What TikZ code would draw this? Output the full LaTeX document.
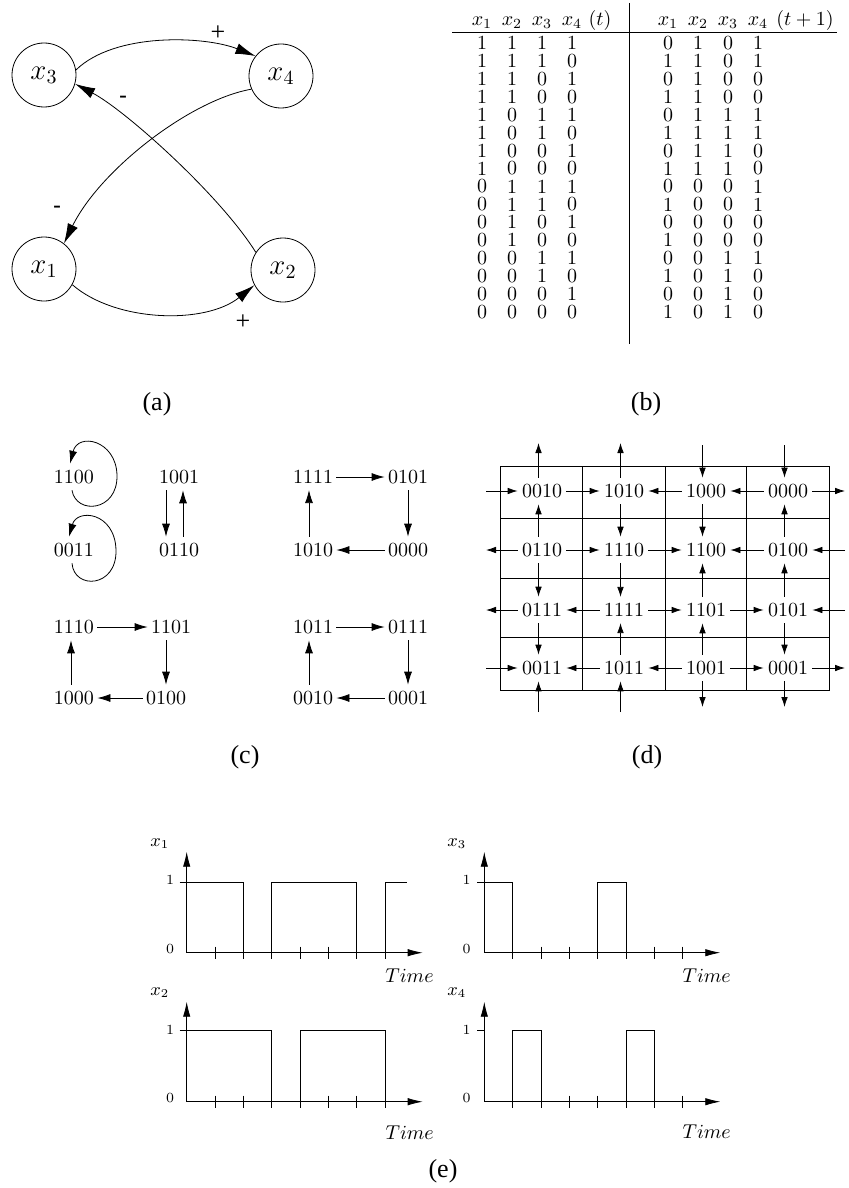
\documentclass[tikz,border=0pt]{standalone}
\usepackage{fontspec}
\newfontfamily\timesf{Liberation Serif}
\newfontfamily\helvf{Liberation Sans}
\usetikzlibrary{arrows.meta}
\tikzset{
  vnode/.style={draw, circle, minimum size=32pt, inner sep=0pt, font=\fontsize{14}{17}\selectfont},
  aarr/.style={-{Latex[length=10pt,width=5.5pt]}},
  signlab/.style={inner sep=0pt, font=\timesf\fontsize{13}{15}\selectfont},
  minuslab/.style={inner sep=0pt, font=\helvf\fontsize{12}{14}\selectfont},
  tabtxt/.style={inner sep=0pt, font=\fontsize{10}{12}\selectfont},
  tabhead/.style={inner sep=0pt, anchor=base, font=\fontsize{10}{12}\selectfont},
  cnode/.style={inner xsep=1.5pt, inner ysep=3pt, font=\fontsize{10}{12}\selectfont},
  carr/.style={-{Latex[length=6.5pt,width=4pt]}},
  dnode/.style={inner xsep=2pt, inner ysep=3pt, font=\fontsize{10}{12}\selectfont},
  darr/.style={-{Latex[length=5pt,width=3.3pt]}},
  gridline/.style={line width=0.45pt},
  earr/.style={-{Latex[length=7.5pt,width=3.7pt]}},
  elab/.style={inner sep=0pt, font=\fontsize{7}{8}\selectfont},
  evar/.style={inner sep=0pt, font=\fontsize{9}{11}\selectfont},
  etime/.style={inner sep=0pt, font=\fontsize{10}{12}\selectfont},
  plab/.style={inner sep=0pt, font=\timesf\fontsize{13}{15}\selectfont}
}
\begin{document}
\begin{tikzpicture}[x=0.5pt,y=-0.5pt]
\useasboundingbox (0,0) rectangle (849,1188);

% ---------------- (a) ----------------
\node[vnode] (x3) at (44,75) {$x_3$};
\node[vnode] (x4) at (281,76) {$x_4$};
\node[vnode] (x1) at (44,269) {$x_1$};
\node[vnode] (x2) at (283,270) {$x_2$};
\draw[aarr] (x3.9) .. controls (115,32) and (205,36) .. (x4.142);
\draw[aarr] (x1.-29) .. controls (115,322) and (205,325) .. (x2.208);
\draw[aarr] (x2.147) .. controls (220,195) and (125,110) .. (x3.-16);
\draw[aarr] (x4.204) .. controls (190,100) and (100,170) .. (x1.52);
\node[signlab] (pl1) at (218,33) {+};
\node[signlab] (pl2) at (243,322) {+};
\node[minuslab] (mi1) at (123,100) {-};
\node[minuslab] (mi2) at (57,210) {-};
\node[plab] (la) at (157,404) {(a)};

% ---------------- (b) ----------------
\node[tabhead] (h1) at (482,26) {$x_1$};
\node[tabhead] (h2) at (512,26) {$x_2$};
\node[tabhead] (h3) at (542,26) {$x_3$};
\node[tabhead] (h4) at (572,26) {$x_4$};
\node[tabhead] (h5) at (600,26) {$(t)$};
\node[tabhead] (k1) at (668,26) {$x_1$};
\node[tabhead] (k2) at (698,26) {$x_2$};
\node[tabhead] (k3) at (728,26) {$x_3$};
\node[tabhead] (k4) at (758,26) {$x_4$};
\node[tabhead] (k5) at (805,26) {$(t+1)$};
\draw (452,32.3) -- (837,32.3);
\draw (629,3) -- (629,344);
\foreach \a/\b/\c/\d/\e/\f/\g/\h [count=\i from 0] in {
  1/1/1/1/0/1/0/1, 1/1/1/0/1/1/0/1, 1/1/0/1/0/1/0/0, 1/1/0/0/1/1/0/0,
  1/0/1/1/0/1/1/1, 1/0/1/0/1/1/1/1, 1/0/0/1/0/1/1/0, 1/0/0/0/1/1/1/0,
  0/1/1/1/0/0/0/1, 0/1/1/0/1/0/0/1, 0/1/0/1/0/0/0/0, 0/1/0/0/1/0/0/0,
  0/0/1/1/0/0/1/1, 0/0/1/0/1/0/1/0, 0/0/0/1/0/0/1/0, 0/0/0/0/1/0/1/0}{
  \node[tabtxt] (bl-\i-1) at (482,43+17.93*\i) {\a};
  \node[tabtxt] (bl-\i-2) at (512,43+17.93*\i) {\b};
  \node[tabtxt] (bl-\i-3) at (542,43+17.93*\i) {\c};
  \node[tabtxt] (bl-\i-4) at (572,43+17.93*\i) {\d};
  \node[tabtxt] (br-\i-1) at (668,43+17.93*\i) {\e};
  \node[tabtxt] (br-\i-2) at (698,43+17.93*\i) {\f};
  \node[tabtxt] (br-\i-3) at (728,43+17.93*\i) {\g};
  \node[tabtxt] (br-\i-4) at (758,43+17.93*\i) {\h};
}
\node[plab] (lb) at (646,404) {(b)};

% ---------------- (c) ----------------
\node[cnode] (c1100) at (74,477) {1100};
\node[cnode] (c0011) at (74,550) {0011};
\node[cnode] (c1001) at (179,477) {1001};
\node[cnode] (c0110) at (179,550) {0110};
\draw[carr] ([xshift=-1pt]c1100.south) .. controls (76,515) and (118,512) .. (117,475)
  .. controls (116,440) and (78,432) .. ([xshift=-2pt]c1100.north);
\draw[carr] ([xshift=-1pt]c0011.south) .. controls (74,590) and (117,588) .. (116,550)
  .. controls (115,512) and (77,508) .. ([xshift=-2.5pt]c0011.north);
\draw[carr] ([xshift=-6.5pt]c1001.south) -- ([xshift=-6.5pt]c0110.north);
\draw[carr] ([xshift=2pt]c0110.north) -- ([xshift=2pt]c1001.south);

\node[cnode] (c1111) at (313,477) {1111};
\node[cnode] (c0101) at (408,477) {0101};
\node[cnode] (c1010) at (313,550) {1010};
\node[cnode] (c0000) at (408,550) {0000};
\draw[carr] (c1111) -- (c0101);
\draw[carr] (c0101) -- (c0000);
\draw[carr] (c0000) -- (c1010);
\draw[carr] ([xshift=-2pt]c1010.north) -- ([xshift=-2pt]c1111.south);

\node[cnode] (c1110) at (74,627) {1110};
\node[cnode] (c1101) at (171,627) {1101};
\node[cnode] (c1000) at (74,698) {1000};
\node[cnode] (c0100) at (166,698) {0100};
\draw[carr] (c1110) -- (c1101);
\draw[carr] (c1101.south -| c0100.north) -- (c0100.north);
\draw[carr] (c0100) -- (c1000);
\draw[carr] ([xshift=-1.5pt]c1000.north) -- ([xshift=-1.5pt]c1110.south);

\node[cnode] (c1011) at (313,627) {1011};
\node[cnode] (c0111) at (408,627) {0111};
\node[cnode] (c0010) at (313,698) {0010};
\node[cnode] (c0001) at (408,698) {0001};
\draw[carr] (c1011) -- (c0111);
\draw[carr] (c0111) -- (c0001);
\draw[carr] (c0001) -- (c0010);
\draw[carr] ([xshift=-2pt]c0010.north) -- ([xshift=-2pt]c1011.south);
\node[plab] (lc) at (245,757) {(c)};

% ---------------- (d) ----------------
\draw[gridline] (500.7,466) rectangle (829,690);
\foreach \gx in {582.3,665,746.7} \draw[gridline] (\gx,466) -- (\gx,690);
\foreach \gy in {518.3,578.3,637.3} \draw[gridline] (500.7,\gy) -- (829,\gy);
\foreach \name/\cx/\cy in {0010/542/491, 1010/624/491, 1000/706/491, 0000/788/491,
  0110/542/550, 1110/624/550, 1100/706/550, 0100/788/550,
  0111/542/610, 1111/624/610, 1101/706/610, 0101/788/610,
  0011/542/668, 1011/624/668, 1001/706/668, 0001/788/668}{
  \node[dnode] (d\name) at (\cx,\cy) {\name};
}
% outside coordinates
\coordinate (dT1) at (538.5,443); \coordinate (dT2) at (620.5,443);
\coordinate (dT3) at (702.5,445); \coordinate (dT4) at (784.5,445);
\coordinate (dB1) at (538.5,712); \coordinate (dB2) at (620.5,712);
\coordinate (dB3) at (702.5,707); \coordinate (dB4) at (784.5,707);
\coordinate (dL1) at (486,491); \coordinate (dL2) at (486,550);
\coordinate (dL3) at (486,610); \coordinate (dL4) at (486,668);
\coordinate (dR1) at (845,491); \coordinate (dR2) at (845,550);
\coordinate (dR3) at (845,610); \coordinate (dR4) at (845,668);
\tikzset{vs/.style={xshift=-1.75pt}}
% top
\draw[darr] ([vs]d0010.north) -- (dT1);
\draw[darr] ([vs]d1010.north) -- (dT2);
\draw[darr] (dT3) -- ([vs]d1000.north);
\draw[darr] (dT4) -- ([vs]d0000.north);
% rows 1-2
\draw[darr] ([vs]d0110.north) -- ([vs]d0010.south);
\draw[darr] ([vs]d1010.south) -- ([vs]d1110.north);
\draw[darr] ([vs]d1000.south) -- ([vs]d1100.north);
\draw[darr] ([vs]d0100.north) -- ([vs]d0000.south);
% rows 2-3
\draw[darr] ([vs]d0110.south) -- ([vs]d0111.north);
\draw[darr] ([vs]d1110.south) -- ([vs]d1111.north);
\draw[darr] ([vs]d1101.north) -- ([vs]d1100.south);
\draw[darr] ([vs]d0101.north) -- ([vs]d0100.south);
% rows 3-4
\draw[darr] ([vs]d0111.south) -- ([vs]d0011.north);
\draw[darr] ([vs]d1011.north) -- ([vs]d1111.south);
\draw[darr] ([vs]d1001.north) -- ([vs]d1101.south);
\draw[darr] ([vs]d0101.south) -- ([vs]d0001.north);
% bottom
\draw[darr] (dB1) -- ([vs]d0011.south);
\draw[darr] (dB2) -- ([vs]d1011.south);
\draw[darr] ([vs]d1001.south) -- (dB3);
\draw[darr] ([vs]d0001.south) -- (dB4);
% row 1 horizontal
\draw[darr] (dL1) -- (d0010);
\draw[darr] (d0010) -- (d1010);
\draw[darr] (d1000) -- (d1010);
\draw[darr] (d0000) -- (d1000);
\draw[darr] (d0000) -- (dR1);
% row 2
\draw[darr] (d0110) -- (dL2);
\draw[darr] (d0110) -- (d1110);
\draw[darr] (d1110) -- (d1100);
\draw[darr] (d0100) -- (d1100);
\draw[darr] (dR2) -- (d0100);
% row 3
\draw[darr] (d0111) -- (dL3);
\draw[darr] (d1111) -- (d0111);
\draw[darr] (d1111) -- (d1101);
\draw[darr] (d1101) -- (d0101);
\draw[darr] (dR3) -- (d0101);
% row 4
\draw[darr] (dL4) -- (d0011);
\draw[darr] (d1011) -- (d0011);
\draw[darr] (d1001) -- (d1011);
\draw[darr] (d1001) -- (d0001);
\draw[darr] (d0001) -- (dR4);
\node[plab] (ld) at (647,757) {(d)};

% ---------------- (e) ----------------
% x1
\begin{scope}[shift={(186.7,952.7)}]
  \draw[earr] (0,0) -- (236,0);
  \draw[earr] (0,0) -- (0,-101);
  \foreach \k in {1,...,7} \draw (\k*28.333,-6) -- (\k*28.333,6);
  \draw (-7,-70.4) -- (0,-70.4);
  \draw (0,-70.4) -- (56.67,-70.4) -- (56.67,0) -- (85,0) -- (85,-70.4)
        -- (170,-70.4) -- (170,0) -- (198.33,0) -- (198.33,-70.4) -- (219.8,-70.4);
  \node[elab] (e1one) at (-16.7,-73) {1};
  \node[elab] (e1zero) at (-16.7,-4) {0};
  \node[evar] (e1var) at (-27,-109) {$x_1$};
  \node[etime] (e1time) at (222.8,22.5) {$Time$};
\end{scope}
% x3
\begin{scope}[shift={(484.3,952.7)}]
  \draw[earr] (0,0) -- (236,0);
  \draw[earr] (0,0) -- (0,-101);
  \foreach \k in {1,...,7} \draw (\k*28.333,-6) -- (\k*28.333,6);
  \draw (-7,-70.4) -- (0,-70.4);
  \draw (0,-70.4) -- (28.33,-70.4) -- (28.33,0) -- (113.33,0) -- (113.33,-70.4)
        -- (141.67,-70.4) -- (141.67,0) -- (212.5,0);
  \node[elab] (e3one) at (-17.6,-73) {1};
  \node[elab] (e3zero) at (-17.6,-4) {0};
  \node[evar] (e3var) at (-27.6,-109) {$x_3$};
  \node[etime] (e3time) at (222.4,22.5) {$Time$};
\end{scope}
% x2
\begin{scope}[shift={(186.7,1101.7)}]
  \draw[earr] (0,0) -- (236,0);
  \draw[earr] (0,0) -- (0,-100);
  \foreach \k in {1,...,7} \draw (\k*28.333,-6) -- (\k*28.333,6);
  \draw (-7,-71) -- (0,-71);
  \draw (0,-71) -- (85,-71) -- (85,0) -- (113.33,0) -- (113.33,-71)
        -- (198.33,-71) -- (198.33,0) -- (212.5,0);
  \node[elab] (e2one) at (-16.7,-72) {1};
  \node[elab] (e2zero) at (-16.7,-4) {0};
  \node[evar] (e2var) at (-27,-108.7) {$x_2$};
  \node[etime] (e2time) at (223,31) {$Time$};
\end{scope}
% x4
\begin{scope}[shift={(484.3,1101.7)}]
  \draw[earr] (0,0) -- (236,0);
  \draw[earr] (0,0) -- (0,-100);
  \foreach \k in {1,...,7} \draw (\k*28.333,-6) -- (\k*28.333,6);
  \draw (-7,-71) -- (0,-71);
  \draw (0,0) -- (28.33,0) -- (28.33,-71) -- (56.67,-71) -- (56.67,0) -- (141.67,0)
        -- (141.67,-71) -- (170,-71) -- (170,0) -- (212.5,0);
  \node[elab] (e4one) at (-17.6,-72) {1};
  \node[elab] (e4zero) at (-17.6,-4) {0};
  \node[evar] (e4var) at (-27.6,-108.7) {$x_4$};
  \node[etime] (e4time) at (222.4,30) {$Time$};
\end{scope}
\node[plab] (le) at (443,1171) {(e)};
\end{tikzpicture}
\end{document}
